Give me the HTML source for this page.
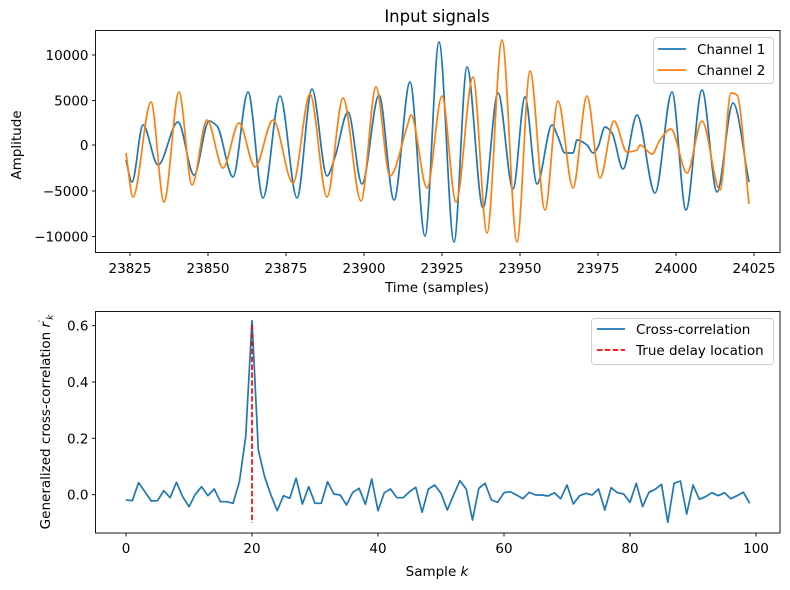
<!DOCTYPE html>
<html><head><meta charset="utf-8"><style>
html,body{margin:0;padding:0;background:#fff;}
svg{display:block;font-family:"DejaVu Sans","Liberation Sans",sans-serif;}
</style></head><body>
<svg id="s" width="790" height="590" viewBox="0 0 790 590" xmlns="http://www.w3.org/2000/svg">
<rect width="790" height="590" fill="#fff"/>
<text x="437" y="22" font-size="16.5" text-anchor="middle" fill="#000">Input signals</text>
<path id="b1" fill="none" stroke="#1f77b4" stroke-width="1.7" stroke-linejoin="round" d=""/>
<path id="o1" fill="none" stroke="#ff7f0e" stroke-width="1.7" stroke-linejoin="round" d=""/>
<rect x="95.5" y="30.5" width="684.5" height="222" fill="none" stroke="#000" stroke-width="0.9"/>
<g stroke="#000" stroke-width="0.9">
<line x1="130" y1="252.5" x2="130" y2="256"/><line x1="208" y1="252.5" x2="208" y2="256"/><line x1="286" y1="252.5" x2="286" y2="256"/><line x1="364" y1="252.5" x2="364" y2="256"/><line x1="442" y1="252.5" x2="442" y2="256"/><line x1="520" y1="252.5" x2="520" y2="256"/><line x1="598" y1="252.5" x2="598" y2="256"/><line x1="676" y1="252.5" x2="676" y2="256"/><line x1="754" y1="252.5" x2="754" y2="256"/>
<line x1="92" y1="55" x2="95.5" y2="55"/><line x1="92" y1="100.5" x2="95.5" y2="100.5"/><line x1="92" y1="145" x2="95.5" y2="145"/><line x1="92" y1="191" x2="95.5" y2="191"/><line x1="92" y1="236.5" x2="95.5" y2="236.5"/>
</g>
<g font-size="13.5" fill="#000" text-anchor="middle">
<text x="130" y="273">23825</text><text x="208" y="273">23850</text><text x="286" y="273">23875</text><text x="364" y="273">23900</text><text x="442" y="273">23925</text><text x="520" y="273">23950</text><text x="598" y="273">23975</text><text x="676" y="273">24000</text><text x="754" y="273">24025</text>
<text x="437" y="292">Time (samples)</text>
</g>
<g font-size="13.5" fill="#000" text-anchor="end">
<text x="88.5" y="60">10000</text><text x="88.5" y="105.5">5000</text><text x="88.5" y="150">0</text><text x="88.5" y="196">−5000</text><text x="88.5" y="241.5">−10000</text>
</g>
<text transform="translate(21,145) rotate(-90)" font-size="13.5" text-anchor="middle">Amplitude</text>
<rect x="653.5" y="37.5" width="120" height="46" rx="3" fill="#fff" fill-opacity="0.8" stroke="#ccc" stroke-width="0.9"/>
<line x1="658" y1="49" x2="686" y2="49" stroke="#1f77b4" stroke-width="1.7"/>
<line x1="658" y1="70" x2="686" y2="70" stroke="#ff7f0e" stroke-width="1.7"/>
<text x="697" y="54" font-size="13.5">Channel 1</text>
<text x="697" y="75" font-size="13.5">Channel 2</text>

<polyline id="cc" fill="none" stroke="#1f77b4" stroke-width="1.7" stroke-linejoin="round" points=""/>
<line x1="252" y1="325" x2="252" y2="523" stroke="#ff0000" stroke-width="1.7" stroke-dasharray="5.5,2.4"/>
<rect x="95.5" y="311.5" width="684.5" height="221.5" fill="none" stroke="#000" stroke-width="0.9"/>
<g stroke="#000" stroke-width="0.9">
<line x1="126" y1="533" x2="126" y2="536.5"/><line x1="252" y1="533" x2="252" y2="536.5"/><line x1="378" y1="533" x2="378" y2="536.5"/><line x1="504" y1="533" x2="504" y2="536.5"/><line x1="630" y1="533" x2="630" y2="536.5"/><line x1="756" y1="533" x2="756" y2="536.5"/>
<line x1="92" y1="494.7" x2="95.5" y2="494.7"/><line x1="92" y1="438.3" x2="95.5" y2="438.3"/><line x1="92" y1="382" x2="95.5" y2="382"/><line x1="92" y1="325.7" x2="95.5" y2="325.7"/>
</g>
<g font-size="13.5" fill="#000" text-anchor="middle">
<text x="126" y="553">0</text><text x="252" y="553">20</text><text x="378" y="553">40</text><text x="504" y="553">60</text><text x="630" y="553">80</text><text x="756" y="553">100</text>
<text x="437" y="576">Sample <tspan font-style="italic">k</tspan></text>
</g>
<g font-size="13.5" fill="#000" text-anchor="end">
<text x="88.5" y="499.7">0.0</text><text x="88.5" y="443.3">0.2</text><text x="88.5" y="387">0.4</text><text x="88.5" y="330.7">0.6</text>
</g>
<text transform="translate(50,422) rotate(-90)" font-size="13.5" text-anchor="middle">Generalized cross-correlation <tspan font-style="italic">r</tspan><tspan font-size="9" dy="-5">′</tspan><tspan font-size="9" font-style="italic" dy="8">k</tspan></text>
<rect x="591.5" y="318.5" width="182" height="46" rx="3" fill="#fff" fill-opacity="0.8" stroke="#ccc" stroke-width="0.9"/>
<line x1="597" y1="329" x2="625" y2="329" stroke="#1f77b4" stroke-width="1.7"/>
<line x1="597" y1="350" x2="625" y2="350" stroke="#ff0000" stroke-width="1.7" stroke-dasharray="5.5,2.4"/>
<text x="636" y="334" font-size="13.5">Cross-correlation</text>
<text x="636" y="355" font-size="13.5">True delay location</text>
</svg>
<script>
var B=[[126,160],[132,182],[143,125],[158,165],[178,122],[194,175],[209,121],[217,126],[233,177],[248,92],[263,198],[280,96],[297,198],[312,89],[327,176],[335,157],[348,112],[362,184],[379,95],[394,200],[410,82],[425,236],[439,42],[454,242],[467,67],[483,208],[498,93],[513,189],[525,97],[537,184],[552,125],[558,137],[565,153],[573,153],[577,140],[587,145],[593,153],[598,147],[605,127],[612,133],[623,169],[637,115],[655,193],[672,92],[686,210],[702,90],[717,192],[733,103],[749,182]];
var O=[[126,153],[133,197],[151,102],[164,202],[179,92],[192,185],[207,120],[223,168],[239,123],[255,167],[273,120],[293,183],[310,94],[327,197],[343,98],[361,201],[376,87],[390,176],[407,127],[411,115],[427,188],[442,96],[456,202],[473,77],[487,233],[502,40],[517,242],[530,71],[545,210],[558,101],[573,188],[587,96],[600,178],[614,121],[627,152],[637,150],[640,145],[652,154],[660,140],[671,129],[687,173],[702,121],[720,190],[731,93],[737,95],[749,204]];
function mono(P){var n=P.length,d=[],m=[];for(var i=0;i<n-1;i++)d.push((P[i+1][1]-P[i][1])/(P[i+1][0]-P[i][0]));
m[0]=d[0];m[n-1]=d[n-2];for(var i=1;i<n-1;i++){if(d[i-1]*d[i]<=0)m[i]=0;else m[i]=2/(1/d[i-1]+1/d[i]);}
var s="M"+P[0][0]+","+P[0][1];for(var i=0;i<n-1;i++){var h=(P[i+1][0]-P[i][0])/3;
s+=" C"+(P[i][0]+h).toFixed(2)+","+(P[i][1]+m[i]*h).toFixed(2)+" "+(P[i+1][0]-h).toFixed(2)+","+(P[i+1][1]-m[i+1]*h).toFixed(2)+" "+P[i+1][0]+","+P[i+1][1];}return s;}
document.getElementById("b1").setAttribute("d",mono(B));
document.getElementById("o1").setAttribute("d",mono(O));
var ys=[600,602,548,575,603,602,572,593,547,590,620,583,560,587,567,605,605,610,545,410,62,450,530,585,632,587,595,535,612,560,610,610,545,582,585,615,577,565,613,537,632,578,567,593,593,575,562,637,567,555,580,630,585,542,567,660,565,550,600,607,578,575,585,596,577,585,585,588,578,596,555,612,587,580,585,567,630,563,578,582,607,550,620,577,568,553,667,550,543,642,555,598,590,578,587,578,596,587,577,610];
var p=[];for(var k=0;k<ys.length;k++){p.push((126+6.3*k).toFixed(1)+","+(300+ys[k]/3).toFixed(1));}
document.getElementById("cc").setAttribute("points",p.join(" "));
</script>
</body></html>
